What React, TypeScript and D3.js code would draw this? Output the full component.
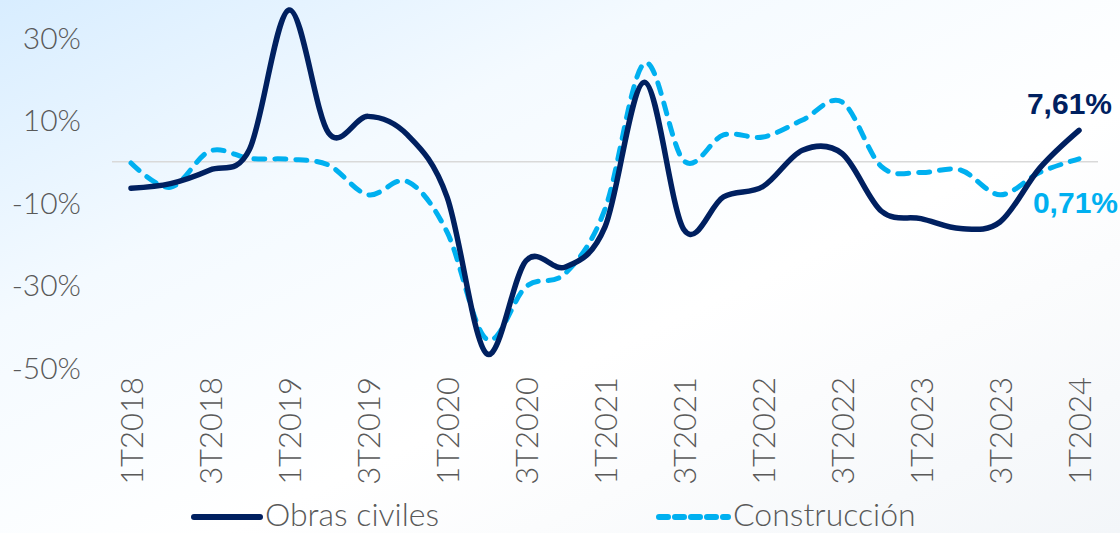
import React, { useRef, useEffect } from 'react';
import * as d3 from 'd3';

// quarters 1T2018 .. 1T2024
const quarters = [
  '1T2018', '2T2018', '3T2018', '4T2018',
  '1T2019', '2T2019', '3T2019', '4T2019',
  '1T2020', '2T2020', '3T2020', '4T2020',
  '1T2021', '2T2021', '3T2021', '4T2021',
  '1T2022', '2T2022', '3T2022', '4T2022',
  '1T2023', '2T2023', '3T2023', '4T2023',
  '1T2024',
];

const obrasCiviles = [
  -6.4, -5.3, -2.0, 3.0,
  36.8, 7.0, 11.0, 6.5,
  -8.5, -46.5, -24.0, -25.5,
  -15.8, 19.3, -16.5, -8.5,
  -6.0, 2.8, 2.0, -12.0,
  -13.8, -16.2, -14.6, -1.6,
  7.61,
];

const construccion = [
  -0.3, -6.2, 2.6, 0.8,
  0.6, -0.8, -8.0, -4.8,
  -17.0, -43.0, -30.3, -27.0,
  -11.5, 23.9, 0.2, 6.5,
  6.0, 10.1, 14.5, -1.2,
  -2.6, -2.0, -8.0, -2.6,
  0.71,
];

const yTicks = [30, 10, -10, -30, -50];
const xTickLabels = quarters.filter((_, i) => i % 2 === 0);

const NAVY = '#002060';
const SKY = '#00b0f0';
const GRAY = '#595959';

const App = () => {
  const ref = useRef<SVGSVGElement>(null);

  useEffect(() => {
    const width = 1120;
    const height = 533;

    const svg = d3.select(ref.current);
    svg.selectAll('*').remove();

    // background gradient
    const defs = svg.append('defs');
    const grad = defs.append('linearGradient')
      .attr('id', 'bg')
      .attr('x1', '0').attr('y1', '0')
      .attr('x2', '1').attr('y2', '1');
    grad.append('stop').attr('offset', '0%').attr('stop-color', '#d8edff');
    grad.append('stop').attr('offset', '30%').attr('stop-color', '#f4faff');
    grad.append('stop').attr('offset', '60%').attr('stop-color', '#ffffff');
    grad.append('stop').attr('offset', '100%').attr('stop-color', '#f3f6f9');
    svg.append('rect')
      .attr('width', width).attr('height', height)
      .attr('fill', 'url(#bg)');

    const x = d3.scalePoint<string>()
      .domain(quarters)
      .range([131, 1079]);

    const y = d3.scaleLinear()
      .domain([-50, 30])
      .range([368, 38]);

    const font = "Lato, 'Noto Sans', sans-serif";

    // y axis labels
    svg.append('g')
      .selectAll('text')
      .data(yTicks)
      .join('text')
      .attr('x', 81)
      .attr('y', (d) => y(d))
      .attr('dy', '0.35em')
      .attr('text-anchor', 'end')
      .attr('font-family', font)
      .attr('font-weight', 300)
      .attr('font-size', 30)
      .attr('fill', GRAY)
      .text((d) => `${d}%`);

    // zero line
    svg.append('line')
      .attr('x1', 112).attr('x2', 1098)
      .attr('y1', y(0)).attr('y2', y(0))
      .attr('stroke', '#d9d9d9')
      .attr('stroke-width', 1.5);

    // x axis labels (rotated)
    svg.append('g')
      .selectAll('text')
      .data(xTickLabels)
      .join('text')
      .attr('transform', (d) => `translate(${(x(d) as number) + 1},377) rotate(-90)`)
      .attr('dy', '0.36em')
      .attr('text-anchor', 'end')
      .attr('font-family', font)
      .attr('font-weight', 300)
      .attr('font-size', 31)
      .attr('fill', GRAY)
      .text((d) => d);

    const line = d3.line<number>()
      .x((_, i) => x(quarters[i]) as number)
      .y((d) => y(d))
      .curve(d3.curveCatmullRom.alpha(0));

    svg.append('path')
      .attr('fill', 'none')
      .attr('stroke', SKY)
      .attr('stroke-width', 5)
      .attr('stroke-dasharray', '11 10')
      .attr('stroke-linecap', 'round')
      .attr('d', line(construccion));

    svg.append('path')
      .attr('fill', 'none')
      .attr('stroke', NAVY)
      .attr('stroke-width', 5.5)
      .attr('stroke-linecap', 'round')
      .attr('stroke-linejoin', 'round')
      .attr('d', line(obrasCiviles));

    // end labels
    const last = quarters.length - 1;
    svg.append('text')
      .attr('x', 1112)
      .attr('y', y(obrasCiviles[last]) - 16)
      .attr('text-anchor', 'end')
      .attr('font-family', "Arial, 'Liberation Sans', sans-serif")
      .attr('font-weight', 'bold')
      .attr('font-size', 30)
      .attr('fill', NAVY)
      .text('7,61%');

    svg.append('text')
      .attr('x', 1118)
      .attr('y', y(construccion[last]) + 54)
      .attr('text-anchor', 'end')
      .attr('font-family', "Arial, 'Liberation Sans', sans-serif")
      .attr('font-weight', 'bold')
      .attr('font-size', 30)
      .attr('fill', SKY)
      .text('0,71%');

    // legend
    const legendY = 515;
    const legend = svg.append('g');
    legend.append('line')
      .attr('x1', 194).attr('x2', 260)
      .attr('y1', legendY + 2).attr('y2', legendY + 2)
      .attr('stroke', NAVY)
      .attr('stroke-width', 6)
      .attr('stroke-linecap', 'round');
    legend.append('text')
      .attr('x', 265).attr('y', legendY)
      .attr('dy', '0.35em')
      .attr('font-family', font)
      .attr('font-weight', 300)
      .attr('font-size', 32)
      .attr('fill', GRAY)
      .text('Obras civiles');
    legend.append('line')
      .attr('x1', 659).attr('x2', 728)
      .attr('y1', legendY + 2).attr('y2', legendY + 2)
      .attr('stroke', SKY)
      .attr('stroke-width', 6)
      .attr('stroke-dasharray', '9 7')
      .attr('stroke-linecap', 'round');
    legend.append('text')
      .attr('x', 733).attr('y', legendY)
      .attr('dy', '0.35em')
      .attr('font-family', font)
      .attr('font-weight', 300)
      .attr('font-size', 32)
      .attr('fill', GRAY)
      .text('Construcción');
  }, []);

  return (
    <svg
      ref={ref}
      width={1120}
      height={533}
      style={{ position: 'absolute', left: 0, top: 0, display: 'block' }}
    />
  );
};

export default App;
